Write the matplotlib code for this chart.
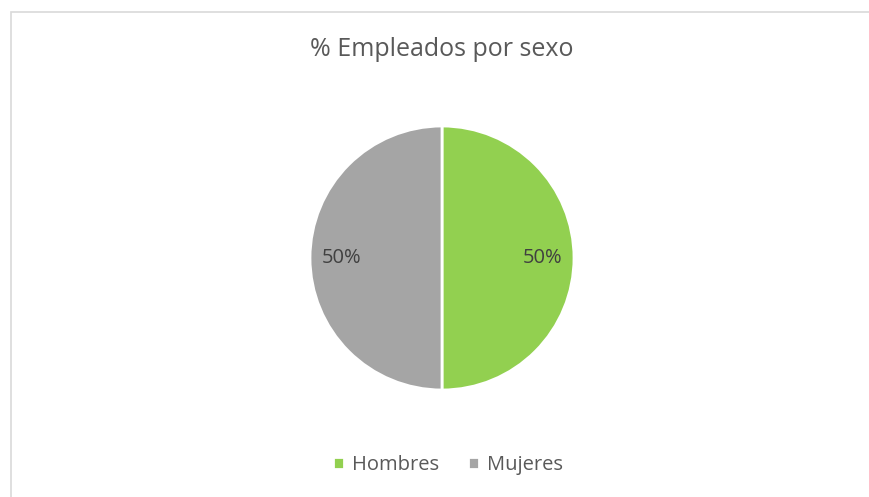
import matplotlib
matplotlib.use("Agg")
import matplotlib.pyplot as plt
from matplotlib.patches import Rectangle

# data
categories = ["Hombres", "Mujeres"]
shares = [50, 50]
colors = ["#92D050", "#A5A5A5"]
title = "% Empleados por sexo"

plt.rcParams["font.family"] = ["Open Sans", "DejaVu Sans"]

W, H = 869, 497
dpi = 100
fig = plt.figure(figsize=(W / dpi, H / dpi), dpi=dpi)

# light frame like the Excel chart area (starts at top-left, runs off the edges)
fig.patches.append(
    Rectangle((11 / W, -0.1), 1.2, 1.1 - 12 / H, transform=fig.transFigure,
              fill=False, edgecolor="#D9D9D9", linewidth=1.2)
)

# pie axes: centre ~ (442, 258), radius ~ 132 px
cx, cy, r = 442, 258, 132
ax = fig.add_axes([(cx - r) / W, 1 - (cy + r) / H, 2 * r / W, 2 * r / H])
wedges, texts, autotexts = ax.pie(
    shares,
    colors=colors,
    startangle=90,
    counterclock=False,
    autopct="%1.0f%%",
    pctdistance=0.76,
    wedgeprops=dict(edgecolor="white", linewidth=2),
    textprops=dict(color="#404040", fontsize=14.5),
    radius=1.0,
)
ax.set_xlim(-1, 1)
ax.set_ylim(-1, 1)
ax.set_aspect("equal")

fig.text(442 / W, 1 - 50 / H, title, ha="center", va="center",
         fontsize=18, color="#595959")

fig.legend(wedges, categories, loc="center", bbox_to_anchor=(448 / W, 1 - 465 / H),
           ncol=2, frameon=False, fontsize=14.5, handlelength=0.55, handleheight=0.55,
           handletextpad=0.4, columnspacing=1.45, labelcolor="#595959")

fig.savefig("out.png", dpi=dpi)
